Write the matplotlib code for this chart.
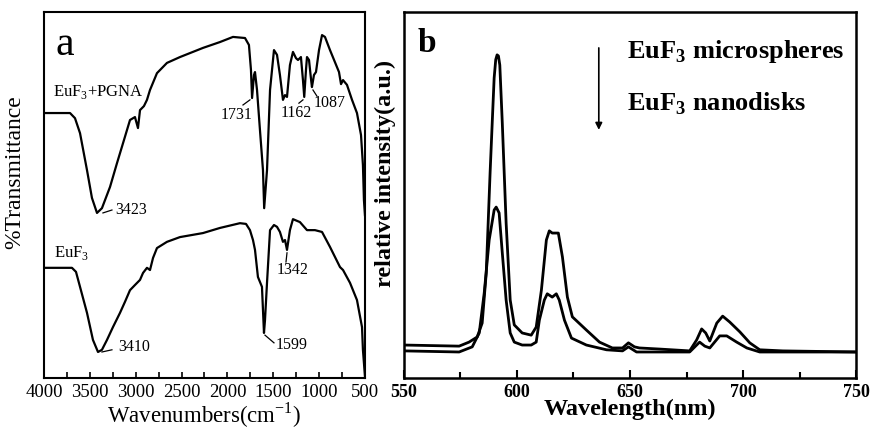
import matplotlib
matplotlib.use('Agg')
import matplotlib.pyplot as plt
from matplotlib.ticker import MultipleLocator

plt.rcParams['font.family'] = ['Liberation Serif', 'DejaVu Serif']
plt.rcParams['mathtext.fontset'] = 'custom'
plt.rcParams['mathtext.rm'] = 'Liberation Serif'
plt.rcParams['mathtext.bf'] = 'Liberation Serif:bold'

# ---- panel a: FTIR (wavenumber in cm-1, transmittance in arbitrary %) ----
pgna_wn = [4000, 3880, 3716, 3662, 3607, 3531, 3477, 3422, 3368, 3280, 3204, 3128,
           3062, 3008, 2975, 2953, 2910, 2877, 2844, 2768, 2659, 2517, 2266, 2081,
           1939, 1808, 1765, 1743, 1731, 1710, 1699, 1677, 1645, 1612, 1599, 1568,
           1535, 1492, 1459, 1427, 1394, 1372, 1350, 1318, 1285, 1252, 1230, 1198,
           1176, 1162, 1143, 1132, 1110, 1087, 1078, 1056, 1034, 1001, 968, 936,
           881, 827, 783, 761, 739, 696, 641, 587, 543, 522, 511, 500]
pgna_t = [72.4, 72.4, 72.4, 71.0, 66.9, 56.8, 49.2, 45.1, 46.4, 52.2, 58.7, 65.0,
          70.5, 71.3, 68.3, 73.2, 74.3, 76.0, 78.7, 83.3, 86.1, 87.7, 90.2, 91.8,
          93.2, 92.9, 91.0, 84.2, 76.5, 82.8, 83.6, 78.7, 67.8, 56.8, 46.4, 56.8,
          78.7, 89.6, 88.3, 82.8, 76.0, 77.3, 76.8, 85.5, 89.1, 87.4, 86.9, 87.7,
          81.4, 76.8, 84.2, 87.7, 86.9, 81.4, 79.5, 82.8, 83.6, 89.6, 93.7, 93.2,
          89.6, 86.3, 83.6, 80.3, 81.4, 80.1, 76.0, 72.4, 66.4, 58.2, 48.6, 44.5]

euf3_wn = [4000, 3695, 3651, 3607, 3531, 3466, 3411, 3368, 3313, 3248, 3171, 3117,
           3062, 3008, 2953, 2920, 2877, 2844, 2811, 2768, 2659, 2517, 2266, 2081,
           1863, 1797, 1754, 1721, 1699, 1667, 1623, 1601, 1590, 1568, 1535, 1492,
           1459, 1427, 1394, 1372, 1350, 1318, 1285, 1209, 1132, 1045, 968, 881,
           772, 739, 663, 587, 532, 522, 500]
euf3_t = [30.1, 30.1, 29.0, 24.9, 17.8, 10.4, 7.1, 7.7, 10.4, 13.9, 17.8, 20.8,
          24.0, 25.4, 26.8, 28.7, 30.1, 29.5, 32.8, 35.5, 37.2, 38.5, 39.6, 41.0,
          42.3, 42.1, 40.4, 37.7, 35.0, 27.6, 24.9, 12.3, 15.8, 26.0, 40.4, 41.8,
          41.3, 39.9, 37.2, 37.7, 35.0, 40.4, 43.4, 42.6, 40.4, 40.4, 39.9, 35.8,
          30.3, 29.5, 26.0, 21.3, 13.9, 7.7, 0.5]

# peak labels: text, text anchor, leader line start and end
ir_labels = [("3423", (3226, 45.9), 'left', (3357, 45.1), (3259, 45.9)),
             ("3410", (3193, 8.5), 'left', (3368, 7.1), (3259, 7.7)),
             ("1731", (1896, 71.9), 'center', (1830, 74.6), (1754, 76.0)),
             ("1162", (1252, 72.4), 'center', (1220, 75.1), (1176, 76.0)),
             ("1087", (881, 75.1), 'center', (1067, 78.7), (1023, 77.0)),
             ("1342", (1285, 29.5), 'center', (1361, 31.7), (1350, 34.2)),
             ("1599", (1296, 9.0), 'center', (1590, 11.7), (1492, 9.6))]

# ---- panel b: PL spectra ----
micro_nm = [550, 574.4, 578.8, 582.4, 584.6, 586.4, 588.1, 589.2, 589.9, 590.6,
            591.2, 591.8, 592.4, 593.5, 595.2, 597.0, 598.8, 602.3, 606.3, 608.5,
            610.8, 613.0, 614.3, 615.6, 618.3, 620.1, 622.3, 624.5, 630.7, 636.5,
            642.2, 646.7, 649.3, 652.0, 654.2, 663.1, 676.4, 679.5, 681.7, 683.5,
            685.3, 688.4, 691.0, 694.1, 698.6, 703.0, 707.4, 717.6, 750]
micro_i = [9.0, 8.7, 9.8, 11.2, 15.0, 28.7, 56.0, 72.0, 82.0, 87.0,
           88.3, 88.0, 85.5, 69.7, 42.3, 21.3, 14.5, 12.3, 11.7, 13.9,
           24.0, 37.7, 40.2, 39.6, 39.6, 33.1, 22.1, 16.7, 13.1, 9.8,
           8.2, 8.2, 9.6, 8.5, 8.2, 7.9, 7.4, 10.4, 13.4, 12.3,
           10.1, 15.0, 16.9, 15.3, 12.6, 9.6, 7.7, 7.4, 7.1]

nano_nm = [550, 574.4, 580.2, 583.3, 585.5, 587.7, 589.9, 590.8, 592.1, 593.5,
           595.2, 597.0, 598.8, 602.3, 606.3, 608.5, 609.9, 612.1, 613.4, 615.6,
           617.4, 618.7, 621.0, 624.1, 630.7, 639.6, 646.7, 649.3, 652.9, 676.4,
           680.8, 683.1, 685.3, 689.7, 692.8, 697.2, 701.7, 707.4, 750]
nano_i = [7.4, 7.1, 8.5, 12.3, 23.2, 37.7, 45.9, 46.7, 45.1, 34.2,
          21.3, 12.3, 9.8, 9.0, 9.0, 9.8, 15.8, 21.3, 23.0, 22.1,
          23.0, 21.3, 15.8, 10.9, 9.0, 7.7, 7.4, 8.5, 7.1, 7.1,
          9.8, 8.7, 8.2, 11.5, 11.5, 9.8, 8.2, 7.1, 7.1]

fig = plt.figure(figsize=(8.71, 4.30), dpi=100)

# panel a
ax1 = fig.add_axes([0.0505, 0.121, 0.3685, 0.851])
ax1.plot(pgna_wn, pgna_t, color='black', lw=1.6)
ax1.plot(euf3_wn, euf3_t, color='black', lw=1.6)
ax1.set_xlim(4000, 500)
ax1.set_ylim(0, 100)
ax1.set_yticks([])
ax1.xaxis.set_major_locator(MultipleLocator(500))
ax1.xaxis.set_minor_locator(MultipleLocator(250))
ax1.tick_params(axis='x', which='both', direction='in', length=4, width=1.2,
                labelsize=13.5, pad=4)
for s in ax1.spines.values():
    s.set_linewidth(1.5)
ax1.set_xlabel('Wavenumbers(cm$^{-1}$)', fontsize=16.5, labelpad=0)
fig.text(0.017, 0.60, '%Transmittance', rotation=90, fontsize=17,
         ha='center', va='center')
ax1.text(0.065, 0.91, 'a', transform=ax1.transAxes, fontsize=30,
         ha='center', va='center')
ax1.text(3902, 78.1, 'EuF$_3$+PGNA', fontsize=12, va='center')
ax1.text(3891, 34.2, 'EuF$_3$', fontsize=12, va='center')
for txt, pos, ha, p0, p1 in ir_labels:
    ax1.plot([p0[0], p1[0]], [p0[1], p1[1]], color='black', lw=0.9)
    ax1.text(pos[0], pos[1], txt, fontsize=11.5, ha=ha, va='center')

# panel b
ax2 = fig.add_axes([0.4638, 0.121, 0.519, 0.851])
ax2.plot(micro_nm, micro_i, color='black', lw=2.0)
ax2.plot(nano_nm, nano_i, color='black', lw=2.0)
ax2.set_xlim(550, 750)
ax2.set_ylim(0, 100)
ax2.set_yticks([])
ax2.xaxis.set_major_locator(MultipleLocator(50))
ax2.xaxis.set_minor_locator(MultipleLocator(25))
ax2.tick_params(axis='x', which='major', direction='in', length=6, width=1.5,
                labelsize=13, pad=4)
ax2.tick_params(axis='x', which='minor', direction='in', length=4, width=1.5)
for lab in ax2.get_xticklabels():
    lab.set_fontweight('bold')
for s in ax2.spines.values():
    s.set_linewidth(1.8)
ax2.set_xlabel('Wavelength(nm)', fontsize=17.5, fontweight='bold', labelpad=-1)
ax2.set_ylabel('relative intensity(a.u.)', fontsize=17.5, fontweight='bold')
ax2.yaxis.set_label_coords(-0.018, 0.56)
ax2.text(0.051, 0.915, 'b', transform=ax2.transAxes, fontsize=24,
         fontweight='bold', ha='center', va='center')
ax2.text(0.493, 0.891, r'EuF$_\mathbf{3}$ microspheres', transform=ax2.transAxes,
         fontsize=19, fontweight='bold', va='center')
ax2.text(0.493, 0.749, r'EuF$_\mathbf{3}$ nanodisks', transform=ax2.transAxes,
         fontsize=19, fontweight='bold', va='center')
ax2.annotate('', xy=(0.431, 0.678), xytext=(0.431, 0.902),
             xycoords='axes fraction',
             arrowprops=dict(arrowstyle='-|>', lw=1.2, color='black',
                             mutation_scale=10, shrinkA=0, shrinkB=0))

fig.savefig('out.png', dpi=100)
